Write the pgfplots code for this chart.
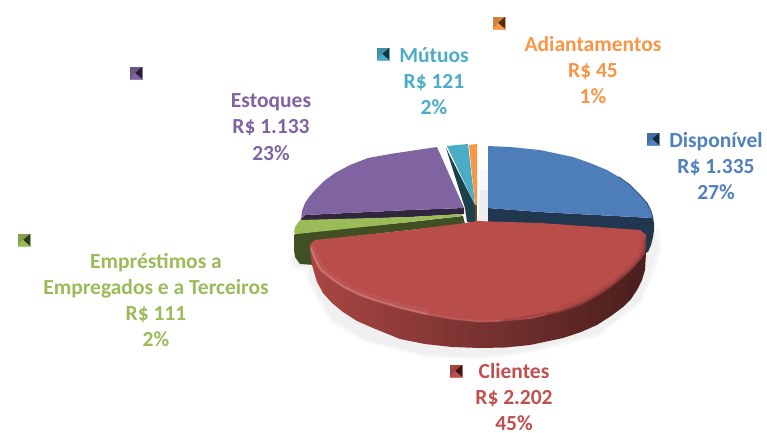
\documentclass[border=0pt]{standalone}
\usepackage{fontspec}
\setmainfont{Carlito}
\usepackage{pgfplots}
\pgfplotsset{compat=1.18}
\definecolor{cb}{HTML}{4F81BD}\definecolor{cr}{HTML}{C0504D}\definecolor{cg}{HTML}{9BBB59}
\definecolor{cp}{HTML}{8064A2}\definecolor{ct}{HTML}{4BACC6}\definecolor{co}{HTML}{F79646}
\newcommand{\bev}[3]{%
\addplot[draw=none,fill=#3!80!white] coordinates {({#1-6.5},{#2-6.5}) ({#1+6.5},{#2-6.5}) ({#1+6.5},{#2+6.5}) ({#1-6.5},{#2+6.5})} --cycle;
\addplot[draw=none,fill=#3!85!black] coordinates {({#1-6},{#2-6}) ({#1+6},{#2-6}) ({#1-1},{#2}) ({#1-6},{#2+6})} --cycle;
\addplot[draw=none,fill=#3!30!black] coordinates {({#1+6},{#2-6}) ({#1+6},{#2+6}) ({#1-1},{#2})} --cycle;
\addplot[draw=none,fill=#3] coordinates {({#1-6},{#2+6}) ({#1+6},{#2+6}) ({#1-1},{#2})} --cycle;
}
\newcommand{\lab}[4]{\node[text=#4,align=center,anchor=center,inner sep=0pt,font=\fontsize{21.5}{26.3}\selectfont\bfseries] at (axis cs:#1,#2) {#3};}
\begin{document}
\begin{tikzpicture}[x=1pt,y=1pt]
\path[use as bounding box] (0,0) rectangle (767,432);
\begin{axis}[at={(0,0)},anchor=south west,scale only axis,width=767pt,height=432pt,xmin=0,xmax=767,ymin=0,ymax=432,y dir=reverse,hide axis,clip=false]
% shadow
\addplot[draw=none,fill=black!3] coordinates {(291,255)(291,268)(306,271)(308,283)(331,323)(367,343)(425,357)(480,360)(530,353)(597,337)(640,304)(654,274)(661,250)(660,228)(480,228)} --cycle;
\addplot[draw=none,fill=black!6] coordinates {(293,258)(294,266)(309,268)(311,283)(333,320)(367,340)(425,355)(480,357)(530,350)(597,334)(640,301)(651,272)(658,248)(654,232)(480,228)} --cycle;
\addplot[draw=none,fill=black!3] coordinates {(480,170)(488,170)(488,190)(480,190)} --cycle;
\addplot[draw=none,fill=black!7] coordinates {(480,190)(488,190)(488,222)(478,222)} --cycle;
% blue side
\addplot[draw=none,fill=cb!42!black] coordinates {(488,208)(540,212)(653,218)(654,223)(654,230)(653,237)(651,245)(648,252)(640,255)(488,228)} --cycle;
% blue top
\addplot[draw=none,fill=cb!98!black] coordinates {(488,146)(510,147)(540,150)(573,157)(590,163)(607,170)(619,177)(630,185)(639,194)(647,203)(651,211)(653,218)(540,212)(488,208)} --cycle;
\addplot[draw=cb!70!black,line width=1pt,line cap=round] coordinates {(619,177)(630,185)(639,194)(647,203)(651,211)(653,218)};
% purple
\addplot[draw=none,fill=cp!38!black] coordinates {(301,219)(305,215)(410,210)(464,208)(464,214)(410,217)(300,221)} --cycle;
\addplot[draw=none,fill=cp] coordinates {(437,147)(410,151)(390,154)(368,158)(350,165)(335,173)(324,181)(315,190)(309,197)(305,203)(302,211)(301,219)(305,215)(410,210)(464,208)} --cycle;
% olive/green
\addplot[draw=none,fill=cg!42!black] coordinates {(463,216)(410,222)(297,233)(294,235)(294,250)(295,257)(300,264)(315,265)(320,240)(410,230)(465,224)} --cycle;
\addplot[draw=none,fill=cg] coordinates {(462,214)(410,217)(300,220)(295,227)(294,233)(297,234)(410,222)(462,216)} --cycle;
% teal
\addplot[draw=none,fill=ct!38!black] coordinates {(446,148)(475,205)(475,222)(467,222)(465,208)} --cycle;
\addplot[draw=none,fill=ct] coordinates {(447,146)(468,144)(475,205)} --cycle;
% orange
\addplot[draw=none,fill=co!45!black] coordinates {(475,205)(477,205)(477,222)(475,222)} --cycle;
\addplot[draw=none,fill=co] coordinates {(469,145)(477,144)(477,205)(475,205)} --cycle;
% red side
\addplot[draw=none,left color=cr!88!black,middle color=cr!52!black,right color=cr!38!black] coordinates {(310,247)(312,265)(317,282)(323,293)(332,303)(343,312)(357,321)(373,328)(400,339)(425,344)(452,347)(480,348)(505,347.5)(530,345)(563,338)(581,332)(597,325)(611,316)(623,307)(631,299)(637,290)(642,280)(645,270)(646,253)} --cycle;
% red top
\addplot[draw=none,fill=cr!96!black] coordinates {(477,221)(540,223)(640,230)(646,235)(646,247)(644.5,254)(640,260)(632,269)(623,277)(611,287)(597,296)(581,305)(563,311)(547,315)(530,319)(505,321)(480,322)(452,319)(425,314)(400,308)(373,300)(357,294)(343,287)(331,279)(320,270)(314,259)(310,247)(311,243)(315,240)(410,230)(465,223)} --cycle;
% bevel of the red top
\addplot[draw=cr!80!black,line width=5pt,line cap=round,opacity=.25] coordinates {(644,238)(643,247)(640,256)(630,268)(621,276)(609,285)(595,294)(579,302)(561,309)};
\addplot[draw=cr!70!black,line width=2.5pt,line cap=round,opacity=.35] coordinates {(545,313)(528,317)(505,320)};
\addplot[draw=cr!60!black,line width=2.5pt,line cap=round,opacity=.5] coordinates {(645,240)(644.5,250)(640,259)(632,268)(623,276)(611,286)(597,295)(581,304)(563,311)(547,314)};
\addplot[draw=cr!70!white,line width=5pt,line cap=round,opacity=.18] coordinates {(312,247)(316,257)(322,268)(333,277)(345,285)(359,292)(375,298)(402,306)(427,312)};
\addplot[draw=cr!60!white,line width=2.2pt,line cap=round,opacity=.45] coordinates {(311,248)(315,259)(321,270)(332,279)(344,287)(358,294)(374,300)(401,308)(426,314)};
\addplot[draw=cr!75!white,line width=2pt,line cap=round,opacity=.35] coordinates {(426,314)(453,319)(480,321.5)(500,321)};
% markers
\bev{136}{73}{cp}
\bev{24}{240}{cg}
\bev{383}{54}{ct}
\bev{499}{23}{co}
\bev{653}{139}{cb}
\bev{456}{371}{cr}
% labels
\lab{716}{166}{Disponível\\R\$ 1.335\\27\%}{cb}
\lab{514}{397}{Clientes\\R\$ 2.202\\45\%}{cr}
\lab{156}{300}{Empréstimos a\\Empregados e a Terceiros\\R\$ 111\\2\%}{cg}
\lab{271}{127}{Estoques\\R\$ 1.133\\23\%}{cp}
\lab{434}{81}{Mútuos\\R\$ 121\\2\%}{ct}
\lab{593}{70}{Adiantamentos\\R\$ 45\\1\%}{co}
\end{axis}
\end{tikzpicture}
\end{document}
